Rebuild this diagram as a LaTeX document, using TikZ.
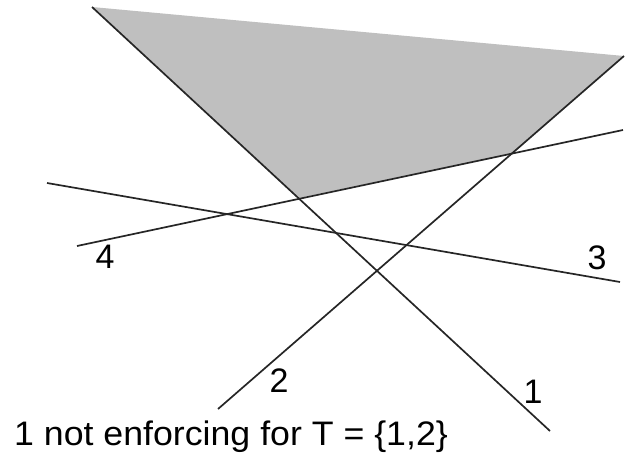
\documentclass[tikz,border=0pt]{standalone}
\usepackage{fontspec}
\setmainfont{Liberation Sans}

\begin{document}
\begin{tikzpicture}[x=1pt,y=-1pt,
   bound/.style={line width=1.7pt,color=black!85},
   lbl/.style={inner sep=0pt,font=\fontsize{34}{38}\selectfont}]
   \useasboundingbox (0,0) rectangle (629,455);

   % end points of the four lines
   \coordinate (a1) at (92,7);    \coordinate (b1) at (550,431);
   \coordinate (a2) at (218,409); \coordinate (b2) at (624,56);
   \coordinate (a3) at (47,183);  \coordinate (b3) at (620,282);
   \coordinate (a4) at (77,246);  \coordinate (b4) at (623,130);

   % feasible region
   \coordinate (p24) at (513,153);
   \coordinate (p14) at (299,198);
   \fill [black!25] (a1) -- (b2) -- (p24) -- (p14) -- cycle;

   \draw[bound] (a1) -- (b1);
   \draw[bound] (a2) -- (b2);
   \draw[bound] (a3) -- (b3);
   \draw[bound] (a4) -- (b4);

   \node[lbl] (n1) at (533,392) {1};
   \node[lbl] (n2) at (279,381) {2};
   \node[lbl] (n3) at (597,258) {3};
   \node[lbl] (n4) at (105,257) {4};

   \node[lbl,anchor=base west,xscale=1.05] (cap) at (14,445) {1 not enforcing for T = \{1,2\}};
\end{tikzpicture}
\end{document}
